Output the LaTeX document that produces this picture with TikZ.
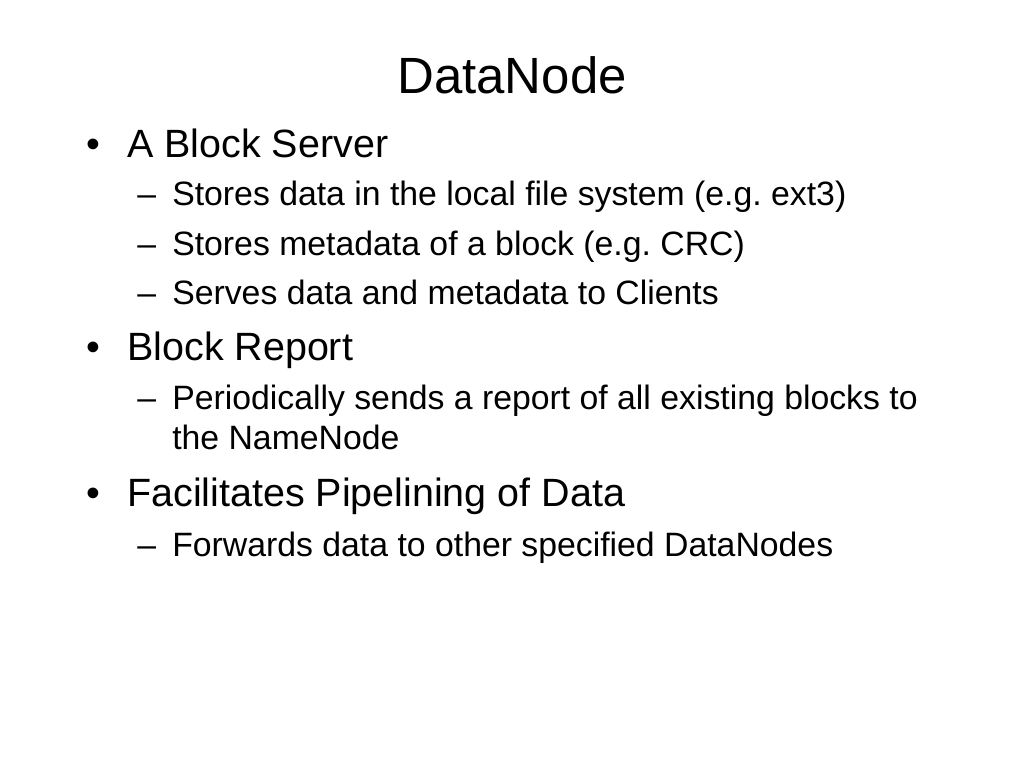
\documentclass[tikz,border=0pt]{standalone}
\usepackage{fontspec}
\setmainfont{Liberation Sans}
\usetikzlibrary{positioning}
\frenchspacing
\tikzset{
  lvlone/.style={anchor=base west, inner sep=0pt, font=\fontsize{28.5}{32}\selectfont},
  lvltwo/.style={anchor=base west, inner sep=0pt, font=\fontsize{24.4}{28}\selectfont},
  mark one/.style={anchor=base west, inner sep=0pt, font=\fontsize{28.5}{32}\selectfont},
}
\begin{document}
\begin{tikzpicture}[x=0.01in, y=-0.01in]
	\useasboundingbox (0,0) rectangle (1024,768);
	\node [anchor=base, inner sep=0pt, font=\fontsize{36.8}{42}\selectfont] (title) at (512,93) {DataNode};
	% first bullet
	\node [mark one] (b1) at (86,157) {\textbullet};
	\node [lvlone] (server) at (127,157) {A Block Server};
	\node [lvltwo] (d1) at (137,205) {--};
	\node [lvltwo] (local) at (172,205) {Stores data in the local file system (e.g. ext3)};
	\node [lvltwo] (d2) at (137,255) {--};
	\node [lvltwo] (meta) at (172,255) {Stores metadata of a block (e.g. CRC)};
	\node [lvltwo] (d3) at (137,304) {--};
	\node [lvltwo] (serves) at (172,304) {Serves data and metadata to Clients};
	% second bullet
	\node [mark one] (b2) at (86,360) {\textbullet};
	\node [lvlone] (report) at (127,360) {Block Report};
	\node [lvltwo] (d4) at (137,409) {--};
	\node [lvltwo] (periodic) at (172,409) {Periodically sends a report of all existing blocks to};
	\node [lvltwo] (namenode) at (172,449) {the NameNode};
	% third bullet
	\node [mark one] (b3) at (86,506) {\textbullet};
	\node [lvlone] (pipe) at (127,506) {Facilitates Pipelining of Data};
	\node [lvltwo] (d5) at (137,556) {--};
	\node [lvltwo] (forward) at (172,556) {Forwards data to other specified DataNodes};
\end{tikzpicture}
\end{document}
